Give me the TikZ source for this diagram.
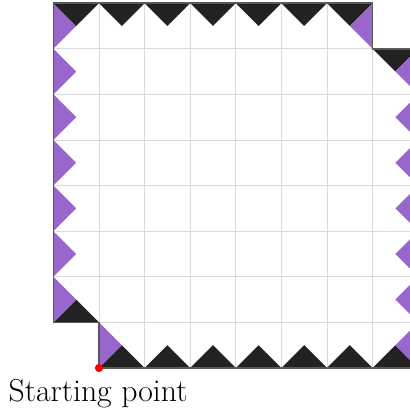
\documentclass[tikz,border=0pt]{standalone}
\usepackage{tikz}
\definecolor{tri}{HTML}{222222}
\definecolor{purp}{HTML}{9966CC}
\begin{document}
\begin{tikzpicture}[x=1cm,y=1cm,
  blk/.style={fill=tri,draw=none},
  prp/.style={fill=purp,draw=none},
  gridl/.style={draw=black!14,line width=0.5pt},
  outline/.style={draw=black!65,line width=0.9pt},
  lbl/.style={font=\fontsize{19.8}{22}\selectfont,inner sep=0pt}]
\useasboundingbox (-2.171,-1.031) rectangle (6.820,8.070);
% region
\begin{scope}
\clip (0,0) -- (7,0) -- (7,7) -- (6,7) -- (6,8) -- (-1,8) -- (-1,1) -- (0,1) -- cycle;
\draw[gridl] (-1,0) grid (7,8);
\end{scope}
% bottom edge: up triangles
\foreach \i in {0,...,6} {\fill[blk] (\i,0) -- (\i+1,0) -- (\i+0.5,0.5) -- cycle;}
% left lower step
\fill[blk] (-1,1) -- (0,1) -- (-0.5,1.5) -- cycle;
\fill[prp] (0,0) -- (0,1) -- (0.5,0.5) -- cycle;
% left edge
\foreach \j in {1,...,7} {\fill[prp] (-1,\j) -- (-1,\j+1) -- (-0.5,\j+0.5) -- cycle;}
% top edge: down triangles
\foreach \i in {-1,...,5} {\fill[blk] (\i,8) -- (\i+1,8) -- (\i+0.5,7.5) -- cycle;}
% top right step
\fill[prp] (6,7) -- (6,8) -- (5.5,7.5) -- cycle;
\fill[blk] (6,7) -- (7,7) -- (6.5,6.5) -- cycle;
% right edge
\foreach \j in {0,...,6} {\fill[prp] (7,\j) -- (7,\j+1) -- (6.5,\j+0.5) -- cycle;}
% outline
\draw[outline] (0,0) -- (7,0) -- (7,7) -- (6,7) -- (6,8) -- (-1,8) -- (-1,1) -- (0,1) -- cycle;
\fill[red] (0,0) circle (0.09);
\coordinate (start) at (0,0);
\node[lbl,anchor=base] (label) at (-0.02,-0.73) {Starting point};
\end{tikzpicture}
\end{document}
